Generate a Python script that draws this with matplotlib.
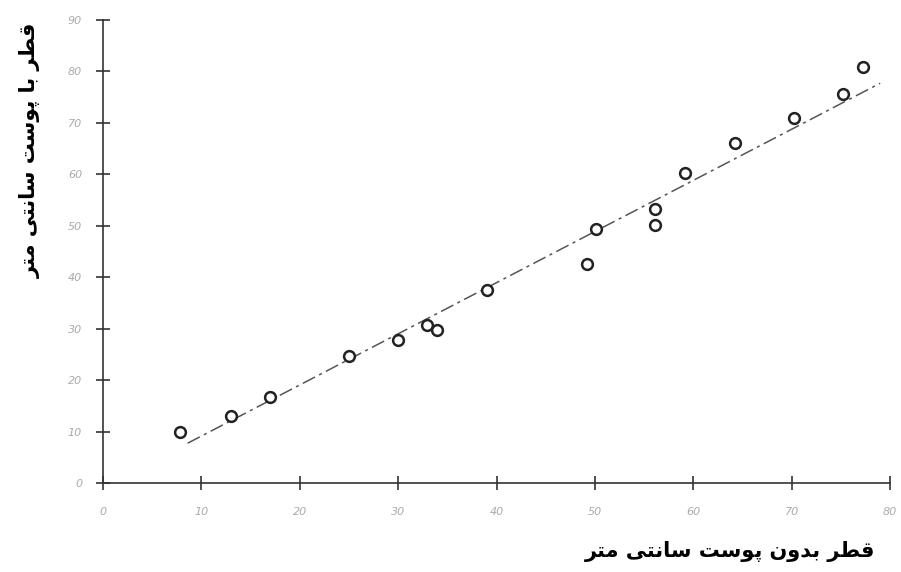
import numpy as np
import matplotlib.pyplot as plt

# diameter under bark vs. diameter over bark (cm)
d_under = [7.8, 13.0, 17.0, 25.0, 30.0, 32.9, 34.0, 39.0, 49.2, 50.1,
           56.1, 56.1, 59.2, 64.2, 70.2, 75.2, 77.3]
d_over = [9.9, 13.0, 16.7, 24.7, 27.8, 30.7, 29.7, 37.5, 42.5, 49.3,
          53.2, 50.1, 60.2, 66.0, 70.9, 75.7, 80.8]

# fitted line
fit_slope = 0.994
fit_intercept = -0.82
fit_range = [8.6, 79.0]

x_ticks = [0, 10, 20, 30, 40, 50, 60, 70, 80]
y_ticks = [0, 10, 20, 30, 40, 50, 60, 70, 80, 90]

x_label = "قطر بدون پوست سانتی متر"
y_label = "قطر با پوست سانتی متر"

# minimal arabic shaping (matplotlib has no complex text layout)
FORMS = {
    'ق': ('\uFED5', '\uFED6', '\uFED7', '\uFED8'),
    'ط': ('\uFEC1', '\uFEC2', '\uFEC3', '\uFEC4'),
    'ر': ('\uFEAD', '\uFEAE', None, None),
    'ب': ('\uFE8F', '\uFE90', '\uFE91', '\uFE92'),
    'د': ('\uFEA9', '\uFEAA', None, None),
    'و': ('\uFEED', '\uFEEE', None, None),
    'ن': ('\uFEE5', '\uFEE6', '\uFEE7', '\uFEE8'),
    'پ': ('\uFB56', '\uFB57', '\uFB58', '\uFB59'),
    'س': ('\uFEB1', '\uFEB2', '\uFEB3', '\uFEB4'),
    'ت': ('\uFE95', '\uFE96', '\uFE97', '\uFE98'),
    'ا': ('\uFE8D', '\uFE8E', None, None),
    'ی': ('\uFBFC', '\uFBFD', '\uFBFE', '\uFBFF'),
    'م': ('\uFEE1', '\uFEE2', '\uFEE3', '\uFEE4'),
}


def shape(s):
    out = []
    for i, c in enumerate(s):
        if c not in FORMS:
            out.append(c)
            continue
        prev = s[i - 1] if i > 0 else ' '
        nxt = s[i + 1] if i + 1 < len(s) else ' '
        join_prev = prev in FORMS and FORMS[prev][2] is not None
        join_next = nxt in FORMS and FORMS[c][2] is not None
        f = FORMS[c]
        if join_prev and join_next:
            out.append(f[3])
        elif join_prev:
            out.append(f[1])
        elif join_next:
            out.append(f[2])
        else:
            out.append(f[0])
    return ''.join(out)[::-1]


fig = plt.figure(figsize=(9.01, 5.72), dpi=100)
ax = fig.add_axes([103 / 901, 89 / 572, 787 / 901, 463 / 572])

xs = np.array(fit_range)
ax.plot(xs, fit_slope * xs + fit_intercept, color='#555555', lw=1.1,
        linestyle=(0, (9, 3, 2, 3)), zorder=2)
ax.scatter(d_under, d_over, s=60, facecolors='white', edgecolors='#222222',
           linewidths=1.8, zorder=3)

ax.set_xlim(0, 80)
ax.set_ylim(0, 90)
ax.set_xticks(x_ticks)
ax.set_yticks(y_ticks)
ax.tick_params(direction='inout', length=10, width=1.2, color='#333333',
               labelsize=8, labelcolor='#aaaaaa')
ax.tick_params(axis='x', pad=12)
ax.tick_params(axis='y', pad=10)
for lab in ax.get_xticklabels() + ax.get_yticklabels():
    lab.set_fontstyle('italic')

for side in ['top', 'right']:
    ax.spines[side].set_visible(False)
for side in ['left', 'bottom']:
    ax.spines[side].set_color('#333333')
    ax.spines[side].set_linewidth(1.2)

fig.text(730 / 901, 1 - 551 / 572, shape(x_label), ha='center', va='center',
         fontsize=15, fontweight='bold', family='DejaVu Sans')
fig.text(30 / 901, 1 - 150 / 572, shape(y_label), ha='center', va='center',
         rotation=90, fontsize=15, fontweight='bold', family='DejaVu Sans')

fig.savefig('out.png', dpi=100)
